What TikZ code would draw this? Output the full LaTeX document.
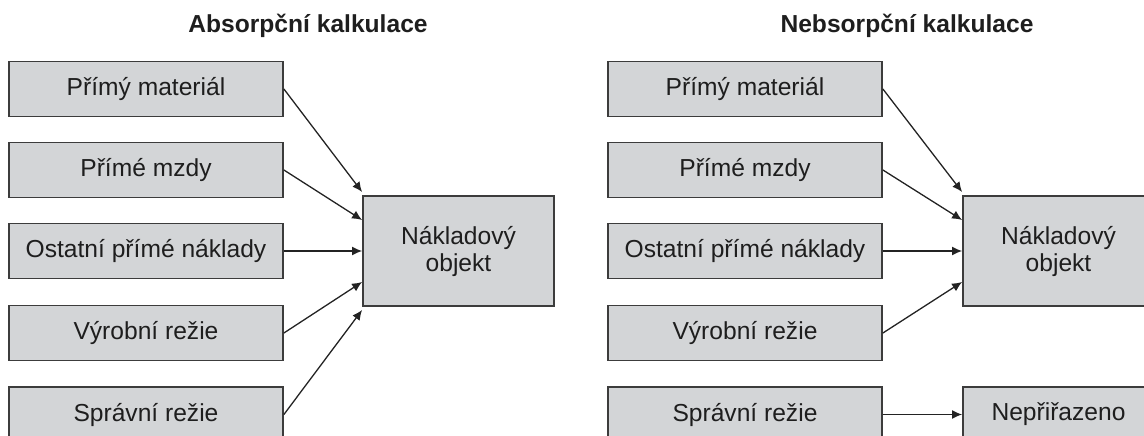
\documentclass[tikz,border=0pt]{standalone}
\usepackage{fontspec}
\setmainfont{Liberation Sans}
\usetikzlibrary{calc,arrows.meta}
\definecolor{boxfill}{RGB}{211,213,215}
\definecolor{boxline}{RGB}{60,60,60}
\definecolor{txt}{RGB}{30,30,30}
\definecolor{arr}{RGB}{35,35,35}
\begin{document}
\begin{tikzpicture}[x=1pt,y=-1pt,
  costbox/.style={draw=boxline, line width=1.8pt, fill=boxfill, text=txt,
    minimum width=274pt, minimum height=55pt, inner sep=0pt,
    font=\fontsize{24.6}{27}\selectfont},
  objbox/.style={costbox, minimum width=191pt, minimum height=110pt, align=center},
  restbox/.style={costbox, minimum width=191pt},
  heading/.style={text=txt, font=\fontsize{24.6}{27}\selectfont\bfseries, inner sep=0pt},
  link/.style={draw=arr, line width=1.3pt, -{Latex[length=10pt,width=9pt]}}
]
\useasboundingbox (0,0) rectangle (1144,436);
\clip (0,0) rectangle (1144,436);

% titles
\node[heading] (tA) at (308,26) {Absorpční kalkulace};
\node[heading] (tN) at (907,26) {Nebsorpční kalkulace};

% left group
\node[costbox] (a1) at (146,89)  {Přímý materiál};
\node[costbox] (a2) at (146,170) {Přímé mzdy};
\node[costbox] (a3) at (146,251) {Ostatní přímé náklady};
\node[costbox] (a4) at (146,333) {Výrobní režie};
\node[costbox] (a5) at (146,414.5) {Správní režie};
\node[objbox]  (aC) at (458.5,251) {Nákladový\\objekt};

\draw[link] (a1.east) -- ($(aC.west)+(0,-59)$);
\draw[link] (a2.east) -- ($(aC.west)+(0,-31)$);
\draw[link] (a3.east) -- (aC.west);
\draw[link] (a4.east) -- ($(aC.west)+(0,31)$);
\draw[link] (a5.east) -- ($(aC.west)+(0,59)$);

% right group
\node[costbox] (n1) at (745,89)  {Přímý materiál};
\node[costbox] (n2) at (745,170) {Přímé mzdy};
\node[costbox] (n3) at (745,251) {Ostatní přímé náklady};
\node[costbox] (n4) at (745,333) {Výrobní režie};
\node[costbox] (n5) at (745,414.5) {Správní režie};
\node[objbox]  (nC) at (1058.5,251) {Nákladový\\objekt};
\node[restbox] (nR) at (1058.5,414.5) {Nepřiřazeno};

\draw[link] (n1.east) -- ($(nC.west)+(0,-59)$);
\draw[link] (n2.east) -- ($(nC.west)+(0,-31)$);
\draw[link] (n3.east) -- (nC.west);
\draw[link] (n4.east) -- ($(nC.west)+(0,31)$);
\draw[link] (n5.east) -- (nR.west);
\end{tikzpicture}
\end{document}
